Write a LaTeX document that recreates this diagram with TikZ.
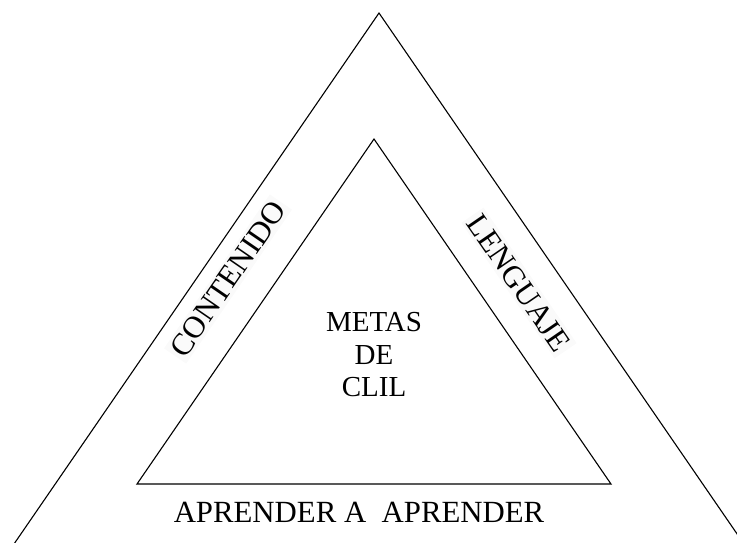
\documentclass[tikz,border=0pt]{standalone}
\usepackage{fontspec}
\setmainfont{Liberation Serif}
\begin{document}
\begin{tikzpicture}[x=1pt,y=-1pt,
  edge/.style={draw=black,line width=1.1pt,line join=miter},
  lbl/.style={font=\fontsize{29}{32.5}\selectfont,inner sep=0pt,align=center},
  sidelbl/.style={font=\fontsize{31}{32}\selectfont,inner sep=3pt,fill=black!2}]
\useasboundingbox (0,0) rectangle (737,542);
\clip (0,0) rectangle (737,542);
% outer triangle (runs past the bottom edge)
\coordinate (oa) at (379,13);
\coordinate (ol) at (-8,576);
\coordinate (or) at (766,576);
\draw[edge] (ol) -- (oa) -- (or);
% inner triangle
\coordinate (ia) at (374,139);
\coordinate (il) at (137,484);
\coordinate (ir) at (611,484);
\draw[edge] (il) -- (ia) -- (ir) -- cycle;
% labels
\node[lbl] (metas) at (374,355) {METAS\\DE\\CLIL};
\node[lbl,font=\fontsize{30.8}{32}\selectfont,anchor=base] (apr) at (359,522) {APRENDER A\ \ APRENDER};
\node[sidelbl,rotate=55.5] (cont) at (228,279) {CONTENIDO};
\node[sidelbl,rotate=-55.5] (leng) at (519,283) {LENGUAJE};
\end{tikzpicture}
\end{document}
